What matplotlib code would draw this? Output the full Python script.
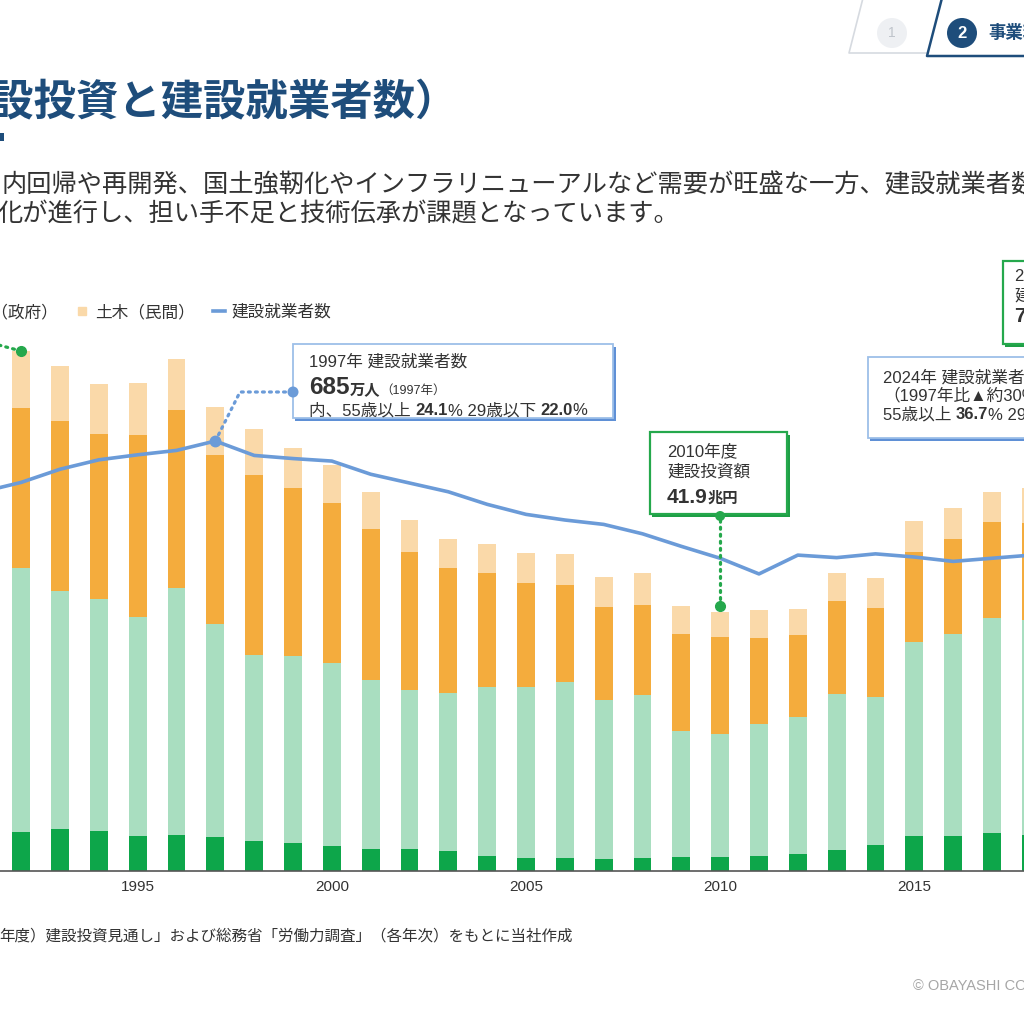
import matplotlib
matplotlib.use('Agg')
import matplotlib.pyplot as plt
from matplotlib.patches import Rectangle, Circle
from matplotlib.lines import Line2D
import numpy as np

plt.rcParams['font.family'] = ['Liberation Sans', 'Noto Sans CJK JP']

# ---------------- data ----------------
years = list(range(1992, 2019))
bldg_gov = [6.3, 6.7, 6.4, 5.6, 5.8, 5.4, 4.8, 4.5, 4.0, 3.5, 3.5, 3.2, 2.4, 2.0,
            2.0, 1.9, 2.0, 2.2, 2.2, 2.4, 2.7, 3.3, 4.1, 5.6, 5.6, 6.1, 5.8]
bldg_priv = [42.8, 38.7, 37.6, 35.5, 40.1, 34.6, 30.2, 30.3, 29.7, 27.4, 25.8, 25.6, 27.4, 27.7,
             28.6, 25.8, 26.5, 20.5, 19.9, 21.4, 22.2, 25.4, 24.1, 31.5, 32.8, 34.9, 34.9]
civil_gov = [26.0, 27.6, 26.8, 29.5, 28.9, 27.5, 29.2, 27.3, 26.0, 24.5, 22.4, 20.3, 18.5, 16.9,
             15.7, 15.0, 14.6, 15.7, 15.8, 14.0, 13.3, 15.0, 14.4, 14.6, 15.4, 15.5, 15.7]
civil_priv = [9.2, 8.9, 8.1, 8.5, 8.2, 7.7, 7.5, 6.5, 6.1, 6.0, 5.2, 4.7, 4.7, 5.0,
              5.0, 5.0, 5.1, 4.5, 4.0, 4.4, 4.3, 4.5, 4.9, 5.0, 5.0, 4.9, 5.7]
worker_years = list(range(1991, 2019))
workers = [604, 619, 640, 655, 663, 670, 685, 662, 657, 653, 632, 618, 604, 584,
           568, 559, 552, 537, 517, 498, 473, 503, 499, 505, 500, 493, 498, 503]
tick_years = [1995, 2000, 2005, 2010, 2015]
series_labels = ['建築（政府）', '建築（民間）', '土木（政府）', '土木（民間）', '建設就業者数']

# ---------------- style ----------------
C_DG = '#0DA64A'
C_LG = '#A9DEC0'
C_OR = '#F4AC3D'
C_LO = '#FAD9A9'
C_LINE = '#6B9BD8'
NAVY = '#1E4D7B'
TXT = '#333333'
GREEN = '#25A84C'
BLUE_EDGE = '#9DBFE8'
BLUE_SHADOW = '#5F90D6'

W = H = 1024
fig = plt.figure(figsize=(10.24, 10.24), dpi=100)
fig.patch.set_facecolor('white')


def F(x, y):
    return (x / W, 1 - y / H)


BASE = 870.5
TOP = 250
PX_YEAR = 38.83
ax = fig.add_axes([0, (H - BASE) / H, 1, (BASE - TOP) / H])
ax.set_xlim(2005 - 526 / PX_YEAR, 2005 + (W - 526) / PX_YEAR)
ax.set_ylim(0, (BASE - TOP) / 6.162)

bottom = np.zeros(len(years))
for vals, col in [(bldg_gov, C_DG), (bldg_priv, C_LG), (civil_gov, C_OR), (civil_priv, C_LO)]:
    ax.bar(years, vals, width=0.46, bottom=bottom, color=col, linewidth=0, zorder=2)
    bottom = bottom + np.array(vals)
totals = bottom

ax2 = ax.twinx()
ax2.set_ylim(0, (BASE - TOP) / 0.627)
ax2.plot(worker_years, workers, color=C_LINE, lw=2.6, solid_joinstyle='round', zorder=3)

for a in (ax, ax2):
    for s in ('top', 'left', 'right'):
        a.spines[s].set_visible(False)
    a.set_yticks([])
ax2.spines['bottom'].set_visible(False)
ax.spines['bottom'].set_color('#555555')
ax.spines['bottom'].set_linewidth(1.2)
ax.set_xticks(tick_years)
ax.set_xticklabels([str(y) for y in tick_years], fontsize=11, color=TXT)
ax.tick_params(axis='x', length=0, pad=6.5)
ax2.tick_params(axis='x', length=0, labelbottom=False)

# ---------------- legend ----------------
handles = [Line2D([], [], marker='s', ls='none', color=c, markersize=5.4)
           for c in (C_DG, C_LG, C_OR, C_LO)]
handles.append(Line2D([], [], color=C_LINE, lw=2.6))
fig.legend(handles, series_labels, loc='center right', bbox_to_anchor=F(331, 312),
           ncol=5, frameon=False, fontsize=12, handlelength=0.7, handletextpad=0.4,
           columnspacing=1.1, borderpad=0, borderaxespad=0, labelcolor=TXT)

# ---------------- helpers ----------------
renderer = fig.canvas.get_renderer()


def data_px(axis, x, y):
    dx, dy = axis.transData.transform((x, y))
    return dx, H - dy


def fig_line(pts, color, **kw):
    fig.add_artist(Line2D([p[0] / W for p in pts], [1 - p[1] / H for p in pts],
                          transform=fig.transFigure, color=color, **kw))


def dot(x, y, r, color):
    fig.add_artist(Circle(F(x, y), r / W, transform=fig.transFigure, fc=color, ec='none', zorder=6))


def box(x0, y0, x1, y1, edge, shadow, lw=1.3):
    fig.add_artist(Rectangle(F(x0 + 2, y1 + 3), (x1 - x0 + 1) / W, (y1 - y0) / H,
                             transform=fig.transFigure, fc=shadow, ec='none', zorder=4))
    fig.add_artist(Rectangle(F(x0, y1), (x1 - x0) / W, (y1 - y0) / H,
                             transform=fig.transFigure, fc='white', ec=edge, lw=lw, zorder=5))


def rich(x, y, parts):
    cx = x
    for s, size, weight in parts:
        t = fig.text(cx / W, 1 - y / H, s, fontsize=size, fontweight=weight, color=TXT,
                     ha='left', va='baseline', zorder=7)
        cx += t.get_window_extent(renderer=renderer).width


DOTS = dict(ls=(0, (0.6, 1.6)), lw=2.3, dash_capstyle='round', zorder=5)

# ---------------- 1997 workers callout ----------------
i97 = worker_years.index(1997)
ax2.plot(1997, workers[i97], 'o', ms=7.5, color=C_LINE, zorder=5)
p97 = data_px(ax2, 1997, workers[i97])
fig_line([p97, (240, 392), (293, 392)], C_LINE, **DOTS)
box(293, 344, 613, 418, BLUE_EDGE, BLUE_SHADOW)
dot(293, 392, 5.5, C_LINE)
rich(309, 367, [('1997年 建設就業者数', 12, 'normal')])
rich(309, 394, [('685', 17.5, 'bold'), ('万人', 11, 'bold'), ('（1997年）', 9, 'normal')])
rich(309, 415, [('内、55歳以上 ', 12, 'normal'), ('24.1', 12, 'bold'), ('% 29歳以下 ', 12, 'normal'),
                ('22.0', 12, 'bold'), ('%', 12, 'normal')])

# ---------------- 2010 investment callout ----------------
i10 = years.index(2010)
ax.plot(2010, totals[i10] + 1.0, 'o', ms=7, color=GREEN, zorder=5)
p10 = data_px(ax, 2010, totals[i10] + 1.0)
fig_line([p10, (p10[0], 516)], GREEN, **DOTS)
box(650, 432, 787, 514, GREEN, '#1E9E46', lw=1.6)
dot(p10[0], 516, 5, GREEN)
rich(667, 456, [('2010年度', 12, 'normal')])
rich(667, 476, [('建設投資額', 12, 'normal')])
rich(667, 503, [('41.9', 15, 'bold'), ('兆円', 11, 'bold')])

# ---------------- 1992 peak connector (box off-screen) ----------------
ax.plot(1992, totals[0], 'o', ms=7, color=GREEN, zorder=5)
p92 = data_px(ax, 1992, totals[0])
fig_line([p92, (-20, 340)], GREEN, **DOTS)

# ---------------- right side callouts (cut by the edge) ----------------
box(1003, 261, 1040, 344, GREEN, '#1E9E46', lw=1.6)
rich(1014, 280, [('2024年度', 12, 'normal')])
rich(1014, 300, [('建設投資額', 12, 'normal')])
rich(1014, 322, [('73.0', 15, 'bold'), ('兆円', 11, 'bold')])

box(868, 357, 1040, 438, BLUE_EDGE, BLUE_SHADOW)
rich(883, 382, [('2024年 建設就業者数 477万人', 12, 'normal')])
rich(883, 400, [('（1997年比▲約30%減）', 12, 'normal')])
rich(883, 419, [('55歳以上 ', 12, 'normal'), ('36.7', 12, 'bold'), ('% 29歳以下 ', 12, 'normal'),
                ('11.7', 12, 'bold'), ('%', 12, 'normal')])

# ---------------- header ----------------
fig.text(*F(458, 114), '事業環境（建設投資と建設就業者数）', ha='right', va='baseline',
         fontsize=30.5, fontweight='bold', color=NAVY)
fig.add_artist(Rectangle(F(0, 141), 4 / W, 8 / H, transform=fig.transFigure, fc=NAVY, ec='none'))
fig.text(*F(2, 192), '内回帰や再開発、国土強靭化やインフラリニューアルなど需要が旺盛な一方、建設就業者数の減少と高齢',
         ha='left', va='baseline', fontsize=18.2, color=TXT)
fig.text(*F(-3, 221), '化が進行し、担い手不足と技術伝承が課題となっています。',
         ha='left', va='baseline', fontsize=18.2, color=TXT)

# tabs
fig_line([(863, -2), (849, 53), (926, 53)], '#D6DAE0', lw=1.2)
fig_line([(942, -2), (927, 56), (1030, 56)], NAVY, lw=1.8)
fig.add_artist(Circle(F(892, 33), 15 / W, transform=fig.transFigure, fc='#EEF0F3', ec='none'))
fig.text(*F(892, 33), '1', ha='center', va='center', fontsize=10, color='#BFC4CB')
fig.add_artist(Circle(F(962, 33), 15 / W, transform=fig.transFigure, fc=NAVY, ec='none'))
fig.text(*F(962, 33), '2', ha='center', va='center', fontsize=12, fontweight='bold', color='white')
fig.text(*F(988, 33), '事業環境', ha='left', va='center', fontsize=12.5, fontweight='bold', color=NAVY)

# footer
fig.text(*F(-1, 941), '年度）建設投資見通し」および総務省「労働力調査」（各年次）をもとに当社作成',
         ha='left', va='baseline', fontsize=11.2, color=TXT)
fig.text(*F(913, 990), '© OBAYASHI CORPORATION', ha='left', va='baseline', fontsize=10.5, color='#A6A6A6')

fig.savefig('out.png', dpi=100)
